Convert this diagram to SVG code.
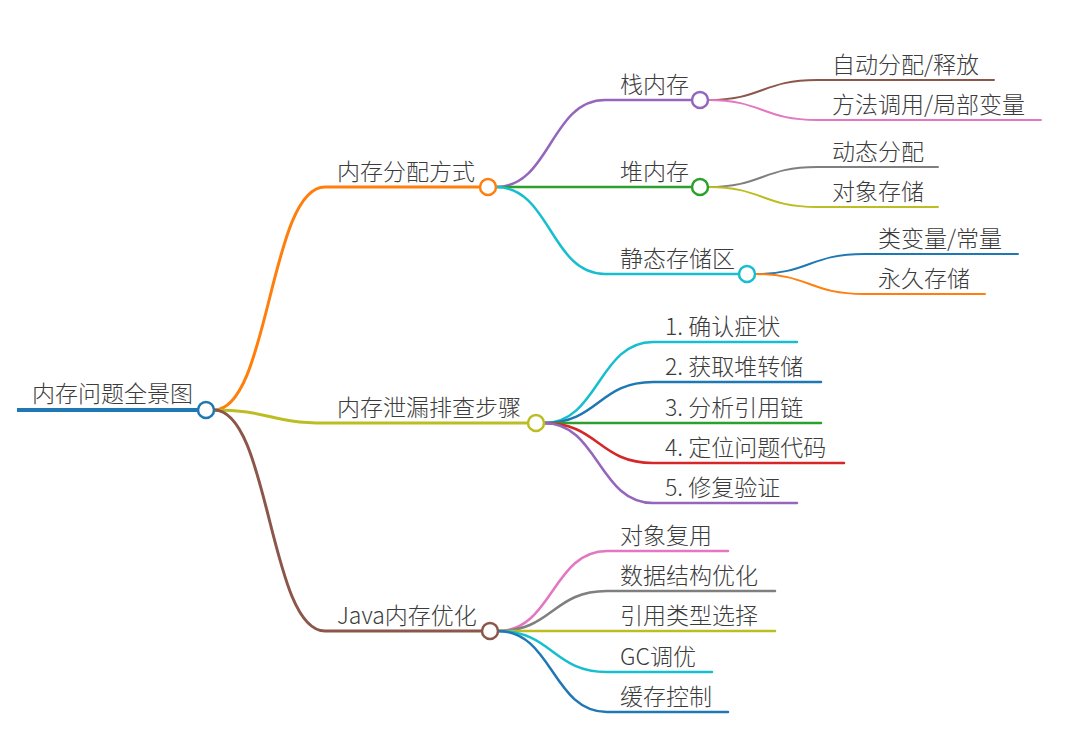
<svg xmlns="http://www.w3.org/2000/svg" width="1078" height="741" viewBox="0 0 1078 741">
<style>
text{font-family:"Noto Sans CJK SC","Noto Sans",sans-serif;font-size:23px;fill:#3c3c3c;font-weight:300}
.c path{fill:none;stroke-linecap:round}
.l1{stroke-width:3}
.l2{stroke-width:2.5}
.l3{stroke-width:2}
circle{fill:#fff;stroke-width:2.5}
</style>
<rect width="1078" height="741" fill="#fff"/>
<g class="c" id="connectors">
<path class="l1" d="M214,410 C269.5,410 269.5,187 325,187 L480,187" stroke="#ff7f0e"/>
<path class="l1" d="M214,410 C269.5,410 269.5,423 325,423 L528,423" stroke="#bcbd22"/>
<path class="l1" d="M214,410 C269.5,410 269.5,631 325,631 L482,631" stroke="#8c564b"/>
<path class="l2" d="M496,187 C550.5,187 550.5,100 605,100 L692,100" stroke="#9467bd"/>
<path class="l2" d="M496,187 L692,187" stroke="#2ca02c"/>
<path class="l2" d="M496,187 C550.5,187 550.5,274 605,274 L739,274" stroke="#17becf"/>
<path class="l3" d="M708,100 C762.5,100 762.5,80 817,80 L994,80" stroke="#8c564b"/>
<path class="l3" d="M708,100 C762.5,100 762.5,120 817,120 L1041,120" stroke="#e377c2"/>
<path class="l3" d="M708,187 C762.5,187 762.5,167 817,167 L938,167" stroke="#7f7f7f"/>
<path class="l3" d="M708,187 C762.5,187 762.5,207 817,207 L938,207" stroke="#bcbd22"/>
<path class="l3" d="M755,274 C809.5,274 809.5,254 864,254 L1018,254" stroke="#1f77b4"/>
<path class="l3" d="M755,274 C809.5,274 809.5,294 864,294 L985,294" stroke="#ff7f0e"/>
<path class="l2" d="M544,423 C598.5,423 598.5,342 653,342 L797,342" stroke="#17becf"/>
<path class="l2" d="M544,423 C598.5,423 598.5,382 653,382 L821,382" stroke="#1f77b4"/>
<path class="l2" d="M544,423 L821,423" stroke="#2ca02c"/>
<path class="l2" d="M544,423 C598.5,423 598.5,463 653,463 L844,463" stroke="#d62728"/>
<path class="l2" d="M544,423 C598.5,423 598.5,503 653,503 L797,503" stroke="#9467bd"/>
<path class="l2" d="M498,631 C552.5,631 552.5,551 607,551 L728,551" stroke="#e377c2"/>
<path class="l2" d="M498,631 C552.5,631 552.5,591 607,591 L775,591" stroke="#7f7f7f"/>
<path class="l2" d="M498,631 L775,631" stroke="#bcbd22"/>
<path class="l2" d="M498,631 C552.5,631 552.5,672 607,672 L712,672" stroke="#17becf"/>
<path class="l2" d="M498,631 C552.5,631 552.5,712 607,712 L728,712" stroke="#1f77b4"/>
</g>
<g id="root">
<line x1="17" y1="410" x2="198" y2="410" stroke="#1f77b4" stroke-width="4"/>
<text x="32" y="402">内存问题全景图</text>
<circle cx="206" cy="410" r="8" stroke="#1f77b4"/>
</g>
<g id="n-alloc"><text x="337" y="180">内存分配方式</text><circle cx="488" cy="187" r="8" stroke="#ff7f0e"/></g>
<g id="n-leak"><text x="337" y="416">内存泄漏排查步骤</text><circle cx="536" cy="423" r="8" stroke="#bcbd22"/></g>
<g id="n-opt"><text x="337" y="624">Java内存优化</text><circle cx="490" cy="631" r="8" stroke="#8c564b"/></g>
<g id="n-stack"><text x="620" y="93">栈内存</text><circle cx="700" cy="100" r="8" stroke="#9467bd"/></g>
<g id="n-heap"><text x="620" y="180">堆内存</text><circle cx="700" cy="187" r="8" stroke="#2ca02c"/></g>
<g id="n-static"><text x="620" y="267">静态存储区</text><circle cx="747" cy="274" r="8" stroke="#17becf"/></g>
<g id="n-s1"><text x="832" y="73">自动分配/释放</text></g>
<g id="n-s2"><text x="832" y="113">方法调用/局部变量</text></g>
<g id="n-h1"><text x="832" y="160">动态分配</text></g>
<g id="n-h2"><text x="832" y="200">对象存储</text></g>
<g id="n-st1"><text x="878" y="247">类变量/常量</text></g>
<g id="n-st2"><text x="878" y="287">永久存储</text></g>
<g id="n-l1"><text x="665" y="335">1. 确认症状</text></g>
<g id="n-l2"><text x="665" y="375">2. 获取堆转储</text></g>
<g id="n-l3"><text x="665" y="416">3. 分析引用链</text></g>
<g id="n-l4"><text x="665" y="456">4. 定位问题代码</text></g>
<g id="n-l5"><text x="665" y="496">5. 修复验证</text></g>
<g id="n-o1"><text x="620" y="544">对象复用</text></g>
<g id="n-o2"><text x="620" y="584">数据结构优化</text></g>
<g id="n-o3"><text x="620" y="624">引用类型选择</text></g>
<g id="n-o4"><text x="620" y="665">GC调优</text></g>
<g id="n-o5"><text x="620" y="705">缓存控制</text></g>
</svg>
